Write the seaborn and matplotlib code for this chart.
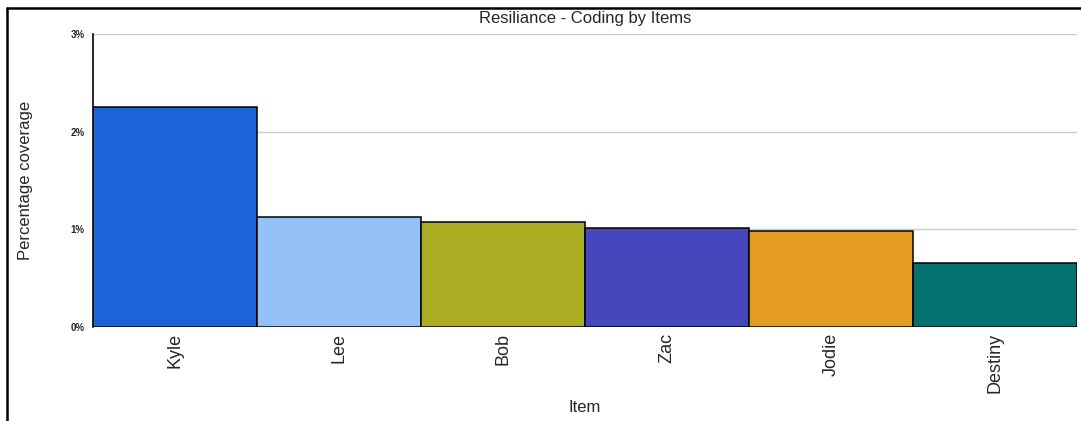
import numpy as np
import pandas as pd
import seaborn as sns
import matplotlib.pyplot as plt
from matplotlib.lines import Line2D
from matplotlib.ticker import FuncFormatter

items = ['Kyle', 'Lee', 'Bob', 'Zac', 'Jodie', 'Destiny']
coverage = [2.25, 1.13, 1.07, 1.01, 0.98, 0.655]
bar_colors = ['#1f63d9', '#94c1f8', '#aaac22', '#4646bd', '#e39b22', '#037170']
y_ticks = [0, 1, 2, 3]

sns.set_style('white')
plt.rcParams['font.family'] = ['Liberation Sans', 'DejaVu Sans']

df = pd.DataFrame({'Item': items, 'coverage': coverage})

fig = plt.figure(figsize=(10.81, 4.21), dpi=100)
ax = fig.add_axes([93/1081, 1-327/421, (1077-93)/1081, (327-34)/421])

sns.barplot(data=df, x='Item', y='coverage', hue='Item', palette=bar_colors,
            width=1.0, legend=False, ax=ax, zorder=3, saturation=1)
for patch in ax.patches:
    patch.set_edgecolor('black')
    patch.set_linewidth(1.1)

ax.set_ylim(0, 3)
ax.set_xlim(-0.5, len(items)-0.5)
ax.set_yticks(y_ticks)
ax.yaxis.set_major_formatter(FuncFormatter(lambda v, p: '%d%%' % v))
ax.yaxis.grid(True, color='#cccccc', linewidth=1, zorder=0)
ax.tick_params(axis='y', labelsize=7, length=0, pad=6)
for t in ax.get_yticklabels():
    t.set_fontweight('bold')
ax.tick_params(axis='x', labelsize=13, length=0, pad=4, rotation=90)
sns.despine(ax=ax, top=True, right=True)
ax.spines['left'].set_color('black')
ax.spines['left'].set_linewidth(1.2)
ax.spines['bottom'].set_visible(False)

ax.set_ylabel('Percentage coverage', fontsize=12, labelpad=27)
ax.set_xlabel('Item', fontsize=12, labelpad=5)
fig.text(0.5*(93+1077)/1081, 1-18/421, 'Resiliance - Coding by Items',
         ha='center', va='center', fontsize=12)

# outer frame (left and top only)
fig.add_artist(Line2D([7/1081, 7/1081], [0, 1-8/421], color='black', linewidth=1.8,
                      transform=fig.transFigure))
fig.add_artist(Line2D([7/1081, 1], [1-8/421, 1-8/421], color='black', linewidth=1.8,
                      transform=fig.transFigure))

plt.savefig('out.png', dpi=100)
